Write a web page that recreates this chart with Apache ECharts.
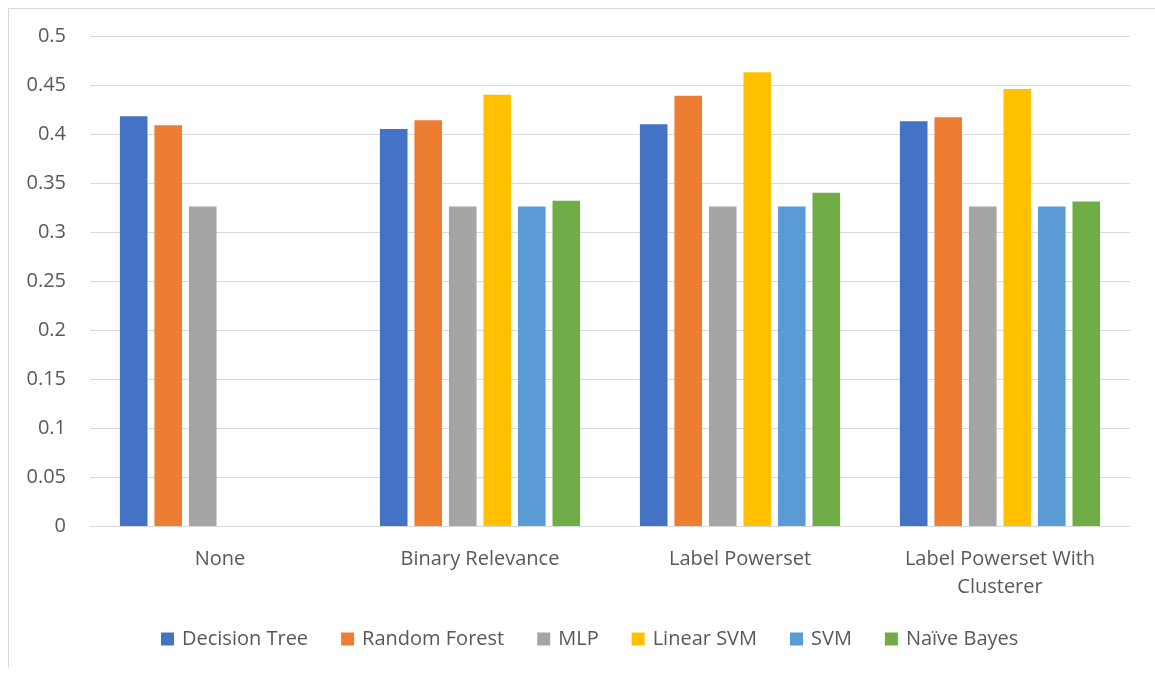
<!DOCTYPE html>
<html>
<head>
<meta charset="utf-8">
<script src="https://cdn.jsdelivr.net/npm/echarts@6/dist/echarts.min.js"></script>
<style>
  html, body { margin: 0; padding: 0; background: #fff; }
  #chart { width: 1155px; height: 674px; }
</style>
</head>
<body>
<div id="chart"></div>
<script>
// Problem transformation methods on the x axis
const categories = ['None', 'Binary Relevance', 'Label Powerset', 'Label Powerset With\nClusterer'];

// Scores per classifier (null = not evaluated)
const decisionTree = [0.418, 0.405, 0.410, 0.413];
const randomForest = [0.409, 0.414, 0.439, 0.417];
const mlp          = [0.326, 0.326, 0.326, 0.326];
const linearSvm    = [null, 0.440, 0.463, 0.446];
const svm          = [null, 0.326, 0.326, 0.326];
const naiveBayes   = [null, 0.332, 0.340, 0.331];

const yTicks = { min: 0, max: 0.5, interval: 0.05 };

const seriesDefs = [
  { name: 'Decision Tree', data: decisionTree, color: '#4472C4' },
  { name: 'Random Forest', data: randomForest, color: '#ED7D31' },
  { name: 'MLP',           data: mlp,          color: '#A5A5A5' },
  { name: 'Linear SVM',    data: linearSvm,    color: '#FFC000' },
  { name: 'SVM',           data: svm,          color: '#5B9BD5' },
  { name: 'Naïve Bayes',   data: naiveBayes,   color: '#70AD47' }
];

const FONT = 'Open Sans';
const FS = 20;
const chart = echarts.init(document.getElementById('chart'));

chart.setOption({
  animation: false,
  textStyle: { fontFamily: FONT },
  graphic: [
    { type: 'line', shape: { x1: 8.5, y1: 8.5, x2: 8.5, y2: 668 }, style: { stroke: '#d9d9d9', lineWidth: 1 } },
    { type: 'line', shape: { x1: 8.5, y1: 8.5, x2: 1155, y2: 8.5 }, style: { stroke: '#d9d9d9', lineWidth: 1 } }
  ],
  grid: { left: 90, right: 25, top: 36, bottom: 148, containLabel: false },
  legend: {
    bottom: 20,
    left: 156,
    itemWidth: 13,
    itemHeight: 13,
    itemGap: 33,
    icon: 'rect',
    textStyle: { fontFamily: FONT, fontSize: FS, color: '#595959', padding: [0, 0, 0, 3] },
    data: seriesDefs.map(s => s.name)
  },
  xAxis: {
    type: 'category',
    data: categories,
    axisLine: { lineStyle: { color: '#d9d9d9', width: 1 } },
    axisTick: { show: false },
    axisLabel: { fontFamily: FONT, fontSize: FS, color: '#595959', margin: 19, lineHeight: 28 }
  },
  yAxis: {
    type: 'value',
    min: yTicks.min,
    max: yTicks.max,
    interval: yTicks.interval,
    axisLine: { show: false },
    axisTick: { show: false },
    splitLine: { lineStyle: { color: '#d9d9d9', width: 1 } },
    axisLabel: {
      fontFamily: FONT, fontSize: FS, color: '#595959', margin: 24,
      formatter: v => String(parseFloat(v.toFixed(2)))
    }
  },
  series: seriesDefs.map(s => ({
    name: s.name,
    type: 'bar',
    data: s.data,
    barGap: '25%',
    barCategoryGap: '23%',
    itemStyle: { color: s.color }
  }))
});
</script>
</body>
</html>
